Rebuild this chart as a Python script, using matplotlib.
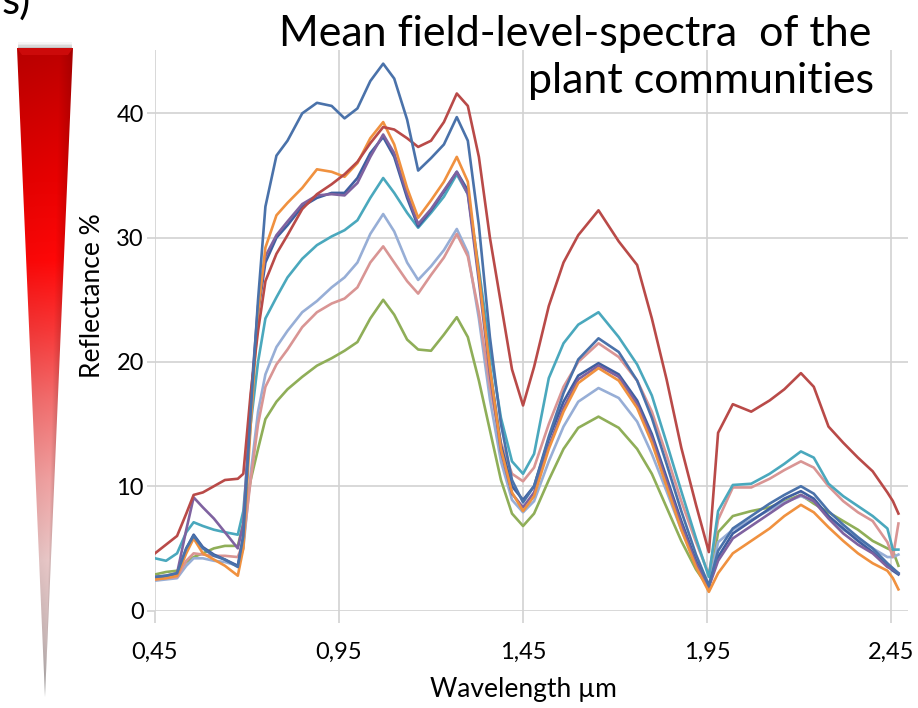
import numpy as np
import matplotlib.pyplot as plt
from matplotlib.patches import Polygon, Rectangle

# wavelength grid, micrometres
wavelength = [0.45, 0.48, 0.51, 0.535, 0.555, 0.58, 0.61, 0.64, 0.675, 0.69,
              0.71, 0.73, 0.75, 0.78, 0.81, 0.85, 0.89, 0.93, 0.965, 1.00,
              1.035, 1.07, 1.10, 1.135, 1.165, 1.20, 1.235, 1.27, 1.30, 1.33,
              1.36, 1.39, 1.42, 1.45, 1.48, 1.52, 1.56, 1.60, 1.655, 1.71,
              1.76, 1.80, 1.84, 1.88, 1.92, 1.955, 1.98, 2.02, 2.07, 2.12,
              2.16, 2.205, 2.24, 2.28, 2.32, 2.36, 2.40, 2.44, 2.455, 2.47]

# mean reflectance (%) per plant community
comm_blue = [2.7, 2.8, 3.0, 5.0, 6.0, 5.0, 4.4, 4.1, 3.5, 6.0,
             16.0, 25.0, 32.5, 36.6, 37.8, 40.0, 40.85, 40.6, 39.6, 40.4,
             42.6, 44.0, 42.8, 39.5, 35.4, 36.4, 37.5, 39.7, 37.8, 31.0,
             22.0, 15.0, 10.5, 8.7, 10.0, 14.0, 17.5, 20.2, 21.9, 20.8,
             18.5, 15.5, 11.8, 8.0, 4.5, 2.0, 4.8, 6.6, 7.6, 8.6,
             9.3, 10.0, 9.4, 8.0, 6.9, 5.9, 5.0, 3.8, 3.4, 3.0]
comm_red = [4.6, 5.3, 6.0, 7.8, 9.3, 9.5, 10.0, 10.5, 10.6, 11.0,
            17.5, 22.5, 26.5, 28.7, 30.2, 32.3, 33.5, 34.3, 35.1, 36.1,
            37.6, 38.9, 38.7, 38.0, 37.3, 37.8, 39.3, 41.6, 40.6, 36.5,
            30.0, 24.7, 19.4, 16.5, 19.6, 24.5, 28.0, 30.2, 32.2, 29.7,
            27.8, 23.5, 18.6, 13.1, 8.5, 4.7, 14.3, 16.6, 16.0, 16.9,
            17.8, 19.1, 18.0, 14.8, 13.5, 12.3, 11.2, 9.5, 8.8, 7.8]
comm_green = [2.9, 3.1, 3.2, 3.9, 4.3, 4.6, 5.0, 5.2, 5.2, 7.0,
              10.5, 13.0, 15.4, 16.8, 17.8, 18.8, 19.7, 20.3, 20.9, 21.6,
              23.5, 25.0, 23.8, 21.8, 21.0, 20.9, 22.2, 23.6, 22.0, 18.5,
              14.5, 10.5, 7.8, 6.8, 7.8, 10.5, 13.0, 14.7, 15.6, 14.7,
              13.0, 11.0, 8.3, 5.6, 3.3, 1.8, 6.3, 7.6, 8.0, 8.3,
              8.8, 9.3, 8.6, 7.9, 7.2, 6.5, 5.6, 5.0, 4.8, 3.6]
comm_purple = [2.7, 2.8, 3.0, 6.5, 9.1, 8.3, 7.4, 6.3, 5.0, 7.0,
               17.0, 24.5, 28.5, 30.2, 31.3, 32.7, 33.4, 33.5, 33.4, 34.4,
               36.5, 38.3, 36.8, 33.5, 31.1, 32.3, 33.8, 35.3, 33.5, 26.5,
               19.0, 12.8, 9.4, 8.3, 9.5, 13.2, 16.3, 18.6, 19.7, 18.8,
               16.6, 13.9, 10.4, 6.9, 3.8, 1.9, 4.0, 5.8, 6.8, 7.8,
               8.6, 9.3, 8.8, 7.4, 6.2, 5.3, 4.6, 3.5, 3.3, 3.0]
comm_teal = [4.2, 4.0, 4.6, 6.3, 7.1, 6.8, 6.5, 6.3, 6.1, 8.0,
             15.0, 20.0, 23.5, 25.2, 26.8, 28.3, 29.4, 30.1, 30.6, 31.4,
             33.2, 34.8, 33.6, 32.0, 30.8, 32.0, 33.3, 35.1, 33.5, 27.5,
             21.0, 15.5, 12.0, 11.0, 12.6, 18.7, 21.5, 23.0, 24.0, 22.0,
             19.8, 17.3, 13.5, 9.6, 5.8, 2.7, 8.0, 10.1, 10.2, 11.0,
             11.8, 12.8, 12.3, 10.2, 9.2, 8.4, 7.6, 6.6, 4.9, 4.9]
comm_orange = [2.5, 2.6, 2.8, 4.6, 5.8, 4.6, 4.1, 3.6, 2.8, 5.0,
               15.0, 24.0, 29.2, 31.8, 32.8, 34.0, 35.5, 35.3, 34.9, 36.0,
               38.0, 39.3, 37.5, 34.0, 31.6, 33.0, 34.5, 36.5, 34.5, 27.0,
               19.5, 13.0, 9.5, 8.0, 9.2, 13.0, 16.0, 18.3, 19.5, 18.5,
               16.3, 13.5, 10.0, 6.5, 3.5, 1.5, 3.0, 4.6, 5.6, 6.6,
               7.6, 8.5, 7.9, 6.7, 5.6, 4.6, 3.8, 3.2, 2.6, 1.7]
comm_navy = [2.6, 2.7, 2.9, 5.0, 6.1, 5.1, 4.5, 4.1, 3.6, 6.0,
             16.5, 24.0, 28.0, 30.0, 31.0, 32.5, 33.2, 33.6, 33.6, 34.8,
             36.8, 38.1, 36.5, 33.2, 30.9, 32.2, 33.7, 35.3, 33.8, 27.0,
             19.5, 13.3, 10.0, 8.9, 10.0, 13.8, 16.8, 18.9, 19.9, 19.0,
             16.9, 14.2, 10.7, 7.2, 4.0, 2.0, 4.3, 6.2, 7.2, 8.2,
             9.0, 9.6, 9.0, 7.6, 6.6, 5.6, 4.7, 3.6, 3.2, 2.9]
comm_pink = [2.5, 2.6, 2.7, 4.0, 4.6, 4.5, 4.4, 4.4, 4.3, 5.5,
             10.5, 15.0, 18.0, 19.8, 21.0, 22.8, 24.0, 24.7, 25.1, 26.0,
             28.0, 29.3, 28.0, 26.5, 25.5, 27.0, 28.4, 30.3, 28.5, 24.0,
             18.0, 13.5, 11.0, 10.4, 11.5, 15.0, 18.0, 20.0, 21.5, 20.4,
             18.5, 16.0, 12.5, 8.8, 5.5, 2.9, 7.3, 9.9, 9.9, 10.6,
             11.3, 12.0, 11.5, 10.0, 8.8, 7.9, 7.2, 5.5, 4.3, 7.0]
comm_lightblue = [2.4, 2.5, 2.6, 3.6, 4.2, 4.2, 4.0, 3.9, 3.6, 5.0,
                  11.0, 16.0, 19.0, 21.2, 22.5, 24.0, 24.9, 26.0, 26.8, 28.0,
                  30.3, 31.9, 30.5, 28.0, 26.6, 27.7, 29.0, 30.7, 28.8, 23.5,
                  17.0, 12.0, 8.9, 7.9, 8.8, 12.0, 14.8, 16.8, 17.9, 17.1,
                  15.2, 12.6, 9.6, 6.5, 3.8, 2.0, 5.5, 6.5, 7.3, 8.1,
                  8.7, 9.2, 8.8, 7.6, 6.5, 5.8, 5.0, 4.3, 4.3, 4.5]

x_ticks = [0.45, 0.95, 1.45, 1.95, 2.45]
x_tick_labels = ['0,45', '0,95', '1,45', '1,95', '2,45']
y_ticks = [0, 10, 20, 30, 40]

curves = [
    (comm_green, '#8fae58'),
    (comm_lightblue, '#97aed6'),
    (comm_pink, '#d99594'),
    (comm_teal, '#4aa8bd'),
    (comm_navy, '#3f5fa0'),
    (comm_purple, '#7f62a0'),
    (comm_orange, '#f0913f'),
    (comm_red, '#b94a48'),
    (comm_blue, '#4a72aa'),
]

plt.rcParams['font.family'] = ['Lato', 'DejaVu Sans']

W, H = 918, 708
fig = plt.figure(figsize=(W / 100, H / 100), dpi=100)

ax = fig.add_axes([155 / W, 1 - 610.5 / H, 753 / W, 560.5 / H])
for values, color in curves:
    ax.plot(wavelength, values, color=color, lw=1.9, solid_joinstyle='round')

ax.set_xlim(0.45, 2.496)
ax.set_ylim(0, 45.1)
ax.set_xticks(x_ticks)
ax.set_xticklabels(x_tick_labels)
ax.set_yticks(y_ticks)
ax.grid(color='#d2d2d2', lw=1.2)
ax.set_axisbelow(True)
for s in ax.spines.values():
    s.set_visible(False)
ax.tick_params(axis='x', length=8.3, width=1.2, color='#d2d2d2', pad=14, labelsize=17)
ax.tick_params(axis='y', length=6, width=1.2, color='#d2d2d2', pad=2, labelsize=17)

fig.text(523 / W, 1 - 689 / H, 'Wavelength µm', ha='center', va='center', fontsize=19)
fig.text(92 / W, 1 - 296 / H, 'Reflectance %', rotation=90, ha='center', va='center', fontsize=19)

fig.text(871 / W, 1 - 46 / H, 'Mean field-level-spectra  of the', ha='right', va='baseline', fontsize=31)
fig.text(874 / W, 1 - 93 / H, 'plant communities', ha='right', va='baseline', fontsize=31)
fig.text(2 / W, 1 - 14 / H, 's)', ha='left', va='baseline', fontsize=30)

# red wedge on the left, drawn in pixel coordinates
deco = fig.add_axes([0, 0, 1, 1], zorder=-1)
deco.set_xlim(0, W)
deco.set_ylim(H, 0)
deco.axis('off')

top, tip = 48, 697
x_left, x_right, x_tip = 17, 73, 45
rows = np.arange(40, 700)
cols = np.arange(15, 76)
stops_y = [48, 170, 260, 330, 400, 480, 560, 640, 697]
stops_c = np.array([[0.74, 0.00, 0.00], [0.90, 0.00, 0.00], [1.00, 0.03, 0.03],
                    [0.97, 0.22, 0.22], [0.95, 0.43, 0.43], [0.94, 0.63, 0.63],
                    [0.91, 0.78, 0.78], [0.79, 0.72, 0.72], [0.63, 0.63, 0.63]])
base = np.stack([np.interp(rows, stops_y, stops_c[:, k]) for k in range(3)], axis=-1)
frac = np.clip((rows - top) / (tip - top), 0, 1)
lefts = x_left + (x_tip - x_left) * frac
rights = x_right + (x_tip - x_right) * frac
u = (cols[None, :] - lefts[:, None]) / np.maximum(rights - lefts, 1)[:, None]
shade = np.where(u < 0.75, 1.0 - 0.04 * (0.75 - u), 1.0 - 0.55 * (u - 0.75))
shade = np.clip(shade, 0.82, 1.0)
img = np.clip(base[:, None, :] * shade[:, :, None], 0, 1)
im = deco.imshow(img, extent=(15, 76, 700, 40), interpolation='bilinear', aspect='auto')
wedge = Polygon([(x_left, top), (x_right, top), (x_tip, tip)], closed=True,
                transform=deco.transData, facecolor='none', edgecolor='none')
deco.add_patch(wedge)
im.set_clip_path(wedge)
deco.add_patch(Polygon([(x_left, top), (x_right, top), (x_right - 5, top + 7), (x_left + 5, top + 7)],
                       closed=True, facecolor='#cc0a0a', edgecolor='none'))
for i, a in enumerate([0.05, 0.08, 0.12, 0.16]):
    deco.add_patch(Rectangle((x_left + 1, top - 6 + i * 1.5), x_right - x_left - 2, 6 - i * 1.5,
                             facecolor='#606060', edgecolor='none', alpha=a))

fig.savefig('out.png', dpi=100)
